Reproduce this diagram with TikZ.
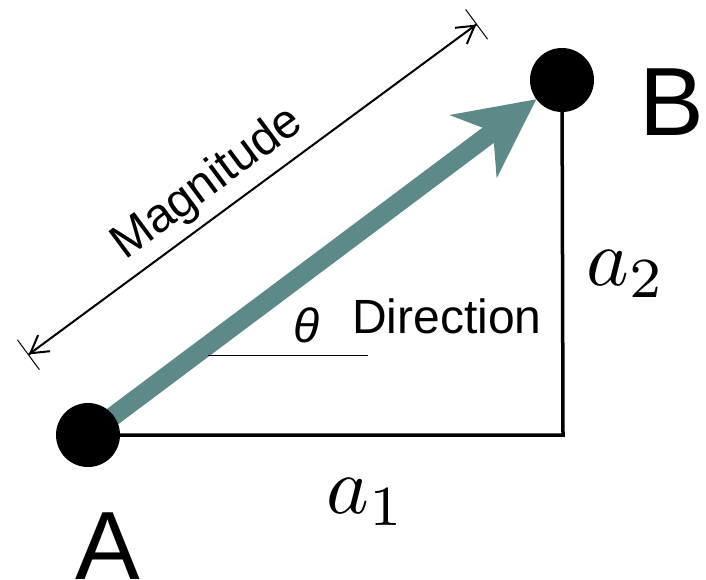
\documentclass[tikz,border=0pt]{standalone}
\usepackage{fontspec}
\setmainfont{Liberation Sans}
\usetikzlibrary{arrows.meta, backgrounds}
\definecolor{vecteal}{RGB}{93,138,136}
\tikzset{
  dot/.style  = {circle, fill=black, inner sep=0pt, minimum size=64pt},
  leg/.style  = {line width=3.5pt},
  vec/.style  = {line width=19pt, draw=vecteal,
                 -{Stealth[length=79pt, width=79pt, inset=25pt, line width=0pt]}},
  dim/.style  = {line width=2pt,
                 {Bar[width=37pt, line width=1pt]Straight Barb[length=17pt, width=20pt]}-%
                 {Straight Barb[length=17pt, width=20pt]Bar[width=37pt, line width=1pt]}},
  lbl/.style  = {inner sep=0pt, font=\fontsize{48}{58}\selectfont},
  comp/.style = {inner sep=0pt, scale=8.1},
  big/.style  = {inner sep=0pt, font=\fontsize{97}{116}\selectfont},
}
\begin{document}
\begin{tikzpicture}[x=1pt, y=-1pt]
  \useasboundingbox (0,0) rectangle (706,579);
  \node[dot] (A) at (88,435) {};
  \node[dot] (B) at (562,80) {};
  \coordinate (C) at (563,435);
  \coordinate (mag1) at (28,355);
  \coordinate (mag2) at (477,24);
  \coordinate (th1) at (208,355);
  \coordinate (th2) at (368,355);
  \begin{scope}[on background layer]
    \draw[leg] (A.center) -- (C) -- (B.center);
    \draw[vec] (A.center) -- (B);
  \end{scope}
  \draw[dim] (mag1) -- (mag2);
  \draw[line width=1pt] (th1) -- (th2);
  \node[lbl, anchor=base, rotate=36.6] (mag) at (215,194) {Magnitude};
  \node[lbl] (theta) at (307,325) {\itshape θ};
  \node[lbl] (dir) at (447,316) {Direction};
  \node[comp, anchor=base west] (a2) at (585,285) {$a_2$};
  \node[comp, anchor=base west] (a1) at (325,513) {$a_1$};
  \node[big, anchor=base] (lblA) at (108,579) {A};
  \node[big, anchor=base west] (lblB) at (639,135) {B};
\end{tikzpicture}
\end{document}
